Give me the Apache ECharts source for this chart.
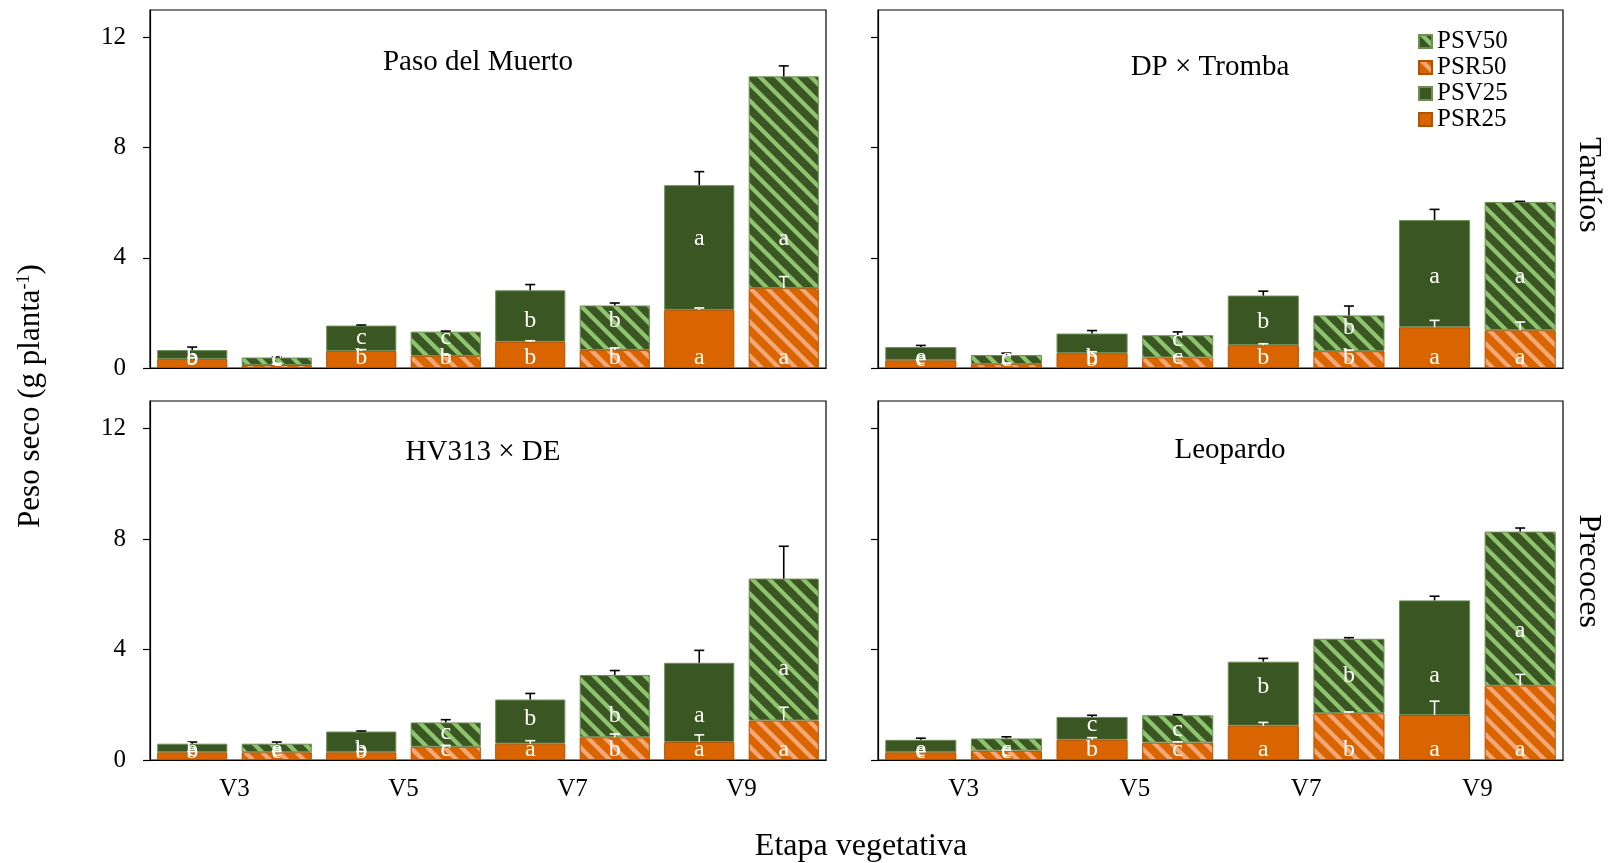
<!DOCTYPE html>
<html><head><meta charset="utf-8">
<script src="https://cdn.jsdelivr.net/npm/echarts@6/dist/echarts.min.js"></script>
<style>html,body{margin:0;padding:0;background:#fff}#c{width:1612px;height:863px}</style>
</head><body><div id="c"></div>
<script>
// ---------- data ----------
const stages = ['V3', 'V5', 'V7', 'V9'];
const barSlots = ['V3-25', 'V3-50', 'V5-25', 'V5-50', 'V7-25', 'V7-50', 'V9-25', 'V9-50'];
const yTicks = [0, 4, 8, 12];
const panelNames = ['Paso del Muerto', 'DP × Tromba', 'HV313 × DE', 'Leopardo'];
const groupLabels = ['Tardíos', 'Precoces'];
const legendNames = ['PSV50', 'PSR50', 'PSV25', 'PSR25'];

// Paso del Muerto
const pasoPSR = [0.33, 0.11, 0.62, 0.44, 0.95, 0.65, 2.11, 2.90];
const pasoPSV = [0.32, 0.27, 0.92, 0.88, 1.87, 1.62, 4.53, 7.69];
const pasoErrTotal = [0.11, 0.03, 0.02, 0.02, 0.21, 0.09, 0.49, 0.38];
const pasoErrPSR = [0.05, 0.03, 0.05, 0.04, 0.04, 0.08, 0.07, 0.42];
const pasoLetPSV = ['b', 'c', 'c', 'c', 'b', 'b', 'a', 'a'];
const pasoLetPSR = ['b', 'c', 'b', 'b', 'b', 'b', 'a', 'a'];
const pasoLetPSVAt = [0.32, 0.30, 1.10, 1.10, 1.70, 1.70, 4.70, 4.70];

// DP × Tromba
const dpPSR = [0.28, 0.14, 0.54, 0.38, 0.83, 0.61, 1.48, 1.37];
const dpPSV = [0.48, 0.33, 0.71, 0.81, 1.80, 1.30, 3.89, 4.66];
const dpErrTotal = [0.06, 0.07, 0.11, 0.12, 0.16, 0.34, 0.39, 0.02];
const dpErrPSR = [0.03, 0.03, 0.05, 0.04, 0.05, 0.04, 0.25, 0.30];
const dpLetPSV = ['e', 'c', 'b', 'c', 'b', 'b', 'a', 'a'];
const dpLetPSR = ['e', 'c', 'b', 'c', 'b', 'b', 'a', 'a'];
const dpLetPSVAt = [0.30, 0.30, 0.30, 1.03, 1.69, 1.45, 3.32, 3.32];

// HV313 × DE
const hvPSR = [0.28, 0.28, 0.28, 0.48, 0.59, 0.82, 0.65, 1.43];
const hvPSV = [0.31, 0.31, 0.75, 0.88, 1.60, 2.26, 2.87, 5.14];
const hvErrTotal = [0.06, 0.06, 0.02, 0.10, 0.22, 0.16, 0.45, 1.17];
const hvErrPSR = [0.03, 0.03, 0.03, 0.05, 0.11, 0.12, 0.26, 0.48];
const hvLetPSV = ['b', 'e', 'b', 'c', 'b', 'b', 'a', 'a'];
const hvLetPSR = ['e', 'e', 'b', 'c', 'a', 'b', 'a', 'a'];
const hvLetPSVAt = [0.30, 0.30, 0.30, 1.00, 1.49, 1.61, 1.61, 3.30];

// Leopardo
const leoPSR = [0.28, 0.34, 0.73, 0.63, 1.24, 1.69, 1.63, 2.69];
const leoPSV = [0.45, 0.44, 0.83, 0.99, 2.32, 2.70, 4.15, 5.58];
const leoErrTotal = [0.06, 0.06, 0.06, 0.02, 0.12, 0.04, 0.15, 0.13];
const leoErrPSR = [0.02, 0.02, 0.08, 0.03, 0.12, 0.05, 0.50, 0.41];
const leoLetPSV = ['e', 'c', 'c', 'c', 'b', 'b', 'a', 'a'];
const leoLetPSR = ['e', 'c', 'b', 'c', 'a', 'b', 'a', 'a'];
const leoLetPSVAt = [0.30, 0.30, 1.28, 1.09, 2.67, 3.04, 3.04, 4.68];

// ---------- build ----------
const panels = [
  {psr: pasoPSR, psv: pasoPSV, eT: pasoErrTotal, eR: pasoErrPSR, lV: pasoLetPSV, lR: pasoLetPSR, lVAt: pasoLetPSVAt},
  {psr: dpPSR, psv: dpPSV, eT: dpErrTotal, eR: dpErrPSR, lV: dpLetPSV, lR: dpLetPSR, lVAt: dpLetPSVAt},
  {psr: hvPSR, psv: hvPSV, eT: hvErrTotal, eR: hvErrPSR, lV: hvLetPSV, lR: hvLetPSR, lVAt: hvLetPSVAt},
  {psr: leoPSR, psv: leoPSV, eT: leoErrTotal, eR: leoErrPSR, lV: leoLetPSV, lR: leoLetPSR, lVAt: leoLetPSVAt}
];

const FONT = '"Liberation Serif", "Times New Roman", serif';
const GREEN = '#3a5622', GREEN_LT = '#8ec46d', GREEN_BD = '#6f8d55';
const ORANGE = '#da6500', ORANGE_LT = '#f2a878', ORANGE_BD = '#b05200';

function hexRgb(h) { return [parseInt(h.slice(1,3),16), parseInt(h.slice(3,5),16), parseInt(h.slice(5,7),16)]; }
function makeHatch(base, stripe) {
  const s = 17, w = 6;
  const c = document.createElement('canvas'); c.width = s; c.height = s;
  const ctx = c.getContext('2d');
  const img = ctx.createImageData(s, s);
  const b = hexRgb(base), t = hexRgb(stripe);
  for (let y = 0; y < s; y++) for (let x = 0; x < s; x++) {
    const u = (((x - y) % s) + s) % s;
    let d = Math.abs(u - w / 2); d = Math.min(d, s - d);
    const cov = Math.max(0, Math.min(1, w / 2 - d + 0.5));
    const k = (y * s + x) * 4;
    for (let j = 0; j < 3; j++) img.data[k + j] = Math.round(b[j] * (1 - cov) + t[j] * cov);
    img.data[k + 3] = 255;
  }
  ctx.putImageData(img, 0, 0);
  return {image: c, repeat: 'repeat'};
}
const greenHatch = makeHatch(GREEN, GREEN_LT);
const orangeHatch = makeHatch(ORANGE, ORANGE_LT);

const grids = [
  {left: 150, top: 10, width: 676, height: 358},
  {left: 878, top: 10, width: 685, height: 358},
  {left: 150, top: 401, width: 676, height: 359},
  {left: 878, top: 401, width: 685, height: 359}
].map(g => Object.assign(g, {show: true, borderColor: '#000', borderWidth: 1.2, backgroundColor: 'transparent'}));

const xAxes = [], yAxes = [], series = [];
for (let p = 0; p < 4; p++) {
  xAxes.push({type: 'category', gridIndex: p, data: barSlots,
    axisLine: {show: true, lineStyle: {color: '#000', width: 1.2}}, axisTick: {show: false}, axisLabel: {show: false}});
  yAxes.push({type: 'value', gridIndex: p, min: 0, max: 13,
    axisLine: {show: true, lineStyle: {color: '#000', width: 1.2}},
    axisTick: {show: true, inside: false, length: 7, customValues: yTicks, lineStyle: {color: '#000', width: 1.2}},
    axisLabel: {show: p % 2 === 0, customValues: yTicks, margin: 24, color: '#000', fontFamily: FONT, fontSize: 25},
    splitLine: {show: false}});
}
// stage labels under bottom panels
[2, 3].forEach(g => xAxes.push({type: 'category', gridIndex: g, data: stages, position: 'bottom',
  axisLine: {show: false}, axisTick: {show: false},
  axisLabel: {show: true, margin: 17, color: '#000', fontFamily: FONT, fontSize: 25}}));

const only = (arr, parity) => arr.map((v, i) => (i % 2 === parity ? v : '-'));

panels.forEach((pd, p) => {
  const common = {type: 'bar', xAxisIndex: p, yAxisIndex: p, stack: 'st' + p, barCategoryGap: '17%', silent: true};
  series.push(Object.assign({}, common, {name: 'PSR25', data: only(pd.psr, 0),
    itemStyle: {color: ORANGE, borderColor: ORANGE_BD, borderWidth: 1}}));
  series.push(Object.assign({}, common, {name: 'PSR50', data: only(pd.psr, 1),
    itemStyle: {color: orangeHatch, borderColor: ORANGE_BD, borderWidth: 1}}));
  series.push(Object.assign({}, common, {name: 'PSV25', data: only(pd.psv, 0),
    itemStyle: {color: GREEN, borderColor: GREEN_BD, borderWidth: 1}}));
  series.push(Object.assign({}, common, {name: 'PSV50', data: only(pd.psv, 1),
    itemStyle: {color: greenHatch, borderColor: GREEN_BD, borderWidth: 1}}));

  const errBar = (bases, errs, color) => ({
    type: 'custom', xAxisIndex: p, yAxisIndex: p, silent: true, z: 5,
    data: bases.map((b, i) => [i, b, errs[i]]),
    renderItem: (params, api) => {
      const x = api.value(0), b = api.value(1), e = api.value(2);
      const p0 = api.coord([x, b]), p1 = api.coord([x, b + e]);
      const h = 5;
      return {type: 'group', children: [
        {type: 'line', shape: {x1: p0[0], y1: p0[1], x2: p1[0], y2: p1[1]}, style: {stroke: color, lineWidth: 1.6}},
        {type: 'line', shape: {x1: p1[0] - h, y1: p1[1], x2: p1[0] + h, y2: p1[1]}, style: {stroke: color, lineWidth: 1.6}}
      ]};
    }
  });
  const totals = pd.psr.map((v, i) => v + pd.psv[i]);
  series.push(errBar(totals, pd.eT, '#000'));
  series.push(errBar(pd.psr, pd.eR, '#fff'));

  // letters
  const letters = (vals, texts, dy) => ({
    type: 'custom', xAxisIndex: p, yAxisIndex: p, silent: true, z: 6,
    data: vals.map((v, i) => [i, v]),
    renderItem: (params, api) => {
      const pt = api.coord([api.value(0), api.value(1)]);
      return {type: 'text', x: pt[0], y: pt[1] + dy, style: {text: texts[params.dataIndex], fill: '#fff',
        font: '24px ' + FONT, align: 'center', verticalAlign: 'middle', textAlign: 'center', textVerticalAlign: 'middle'}};
    }
  });
  series.push(letters(pd.lVAt, pd.lV, 0));
  series.push(letters(pd.psr.map(() => 0), pd.lR, -10));
});

const txt = (text, x, y, size, rot) => ({type: 'text', x: x, y: y, rotation: rot || 0,
  style: {text: text, fill: '#000', font: size + 'px ' + FONT, align: 'center', verticalAlign: 'middle', textAlign: 'center', textVerticalAlign: 'middle'}});

const chart = echarts.init(document.getElementById('c'), null, {renderer: 'canvas'});
chart.setOption({
  animation: false,
  backgroundColor: '#fff',
  grid: grids,
  xAxis: xAxes,
  yAxis: yAxes,
  legend: {data: legendNames, orient: 'vertical', left: 1413, top: 24, itemWidth: 13, itemHeight: 13, itemGap: 1,
    icon: 'rect', textStyle: {fontFamily: FONT, fontSize: 25, color: '#000', lineHeight: 25}},
  graphic: {elements: [
    txt(panelNames[0], 478, 62, 29),
    txt(panelNames[1], 1210, 67, 29),
    txt(panelNames[2], 483, 452, 29),
    txt(panelNames[3], 1230, 450, 29),
    txt(groupLabels[0], 1588, 185, 32, -Math.PI / 2),
    txt(groupLabels[1], 1588, 571, 32, -Math.PI / 2),
    txt('Etapa vegetativa', 861, 847, 32),
    {type: 'text', x: 31, y: 396, rotation: Math.PI / 2,
      style: {rich: {n: {fontFamily: FONT, fontSize: 31, fill: '#000'}, s: {fontFamily: FONT, fontSize: 18, fill: '#000', verticalAlign: 'top', padding: [0, 0, 10, 0]}},
        text: '{n|Peso seco (g planta}{s|-1}{n|)}', align: 'center', verticalAlign: 'middle', textAlign: 'center', textVerticalAlign: 'middle'}}
  ]},
  series: series
});
</script></body></html>
